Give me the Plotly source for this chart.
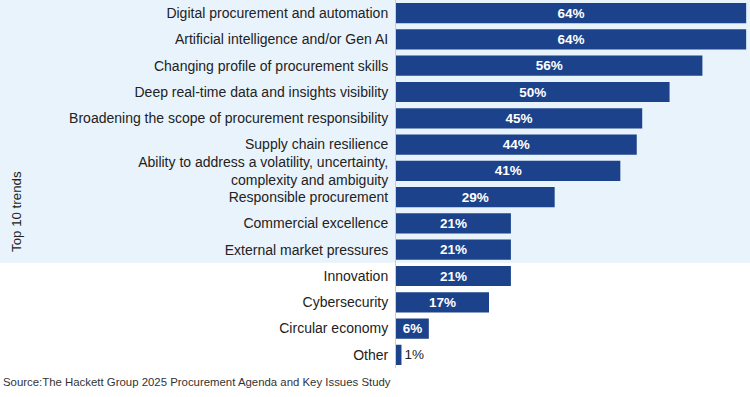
import plotly.graph_objects as go

categories = [
    "Digital procurement and automation",
    "Artificial intelligence and/or Gen AI",
    "Changing profile of procurement skills",
    "Deep real-time data and insights visibility",
    "Broadening the scope of procurement responsibility",
    "Supply chain resilience",
    "Ability to address a volatility, uncertainty,<br>complexity and ambiguity",
    "Responsible procurement",
    "Commercial excellence",
    "External market pressures",
    "Innovation",
    "Cybersecurity",
    "Circular economy",
    "Other",
]
values = [64, 64, 56, 50, 45, 44, 41, 29, 21, 21, 21, 17, 6, 1]
value_labels = [f"{v}%" for v in values]
top_n = 10

W, H = 750, 397
ML, MR, MT, MB = 396, 0, 0, 29
plot_w = W - ML - MR
plot_h = H - MT - MB

positions = ["inside" if v > 3 else "outside" for v in values]

fig = go.Figure(go.Bar(
    x=values, y=categories, orientation="h",
    marker=dict(color="#1b428a", line=dict(width=0)),
    text=value_labels, textposition=positions,
    insidetextanchor="middle",
    insidetextfont=dict(color="white", size=13.5, family="Liberation Sans", weight="bold"),
    outsidetextfont=dict(color="#222222", size=13.5, family="Liberation Sans"),
    constraintext="none", cliponaxis=False,
    width=0.77, hoverinfo="skip",
))

n = len(categories)
frac_top = top_n / n
fig.add_shape(type="rect", xref="paper", yref="paper",
              x0=-ML / plot_w, x1=1.0 + 5 / plot_w, y0=1 - frac_top, y1=1.0,
              fillcolor="#e9f3fc", line=dict(width=0), layer="below")

fig.add_annotation(text="Top 10 trends", textangle=-90, xref="paper", yref="paper",
                   x=(16 - ML) / plot_w, y=1 - 211 / plot_h, showarrow=False,
                   xanchor="center", yanchor="middle",
                   font=dict(size=13.3, color="#222222", family="Liberation Sans"))

fig.add_annotation(text="Source:The Hackett Group 2025 Procurement Agenda and Key Issues Study",
                   xref="paper", yref="paper", x=(1 - ML) / plot_w, y=-(382 - plot_h) / plot_h,
                   xanchor="left", yanchor="middle", showarrow=False,
                   font=dict(size=11.4, color="#333333", family="Liberation Sans"))

fig.update_layout(
    width=W, height=H,
    margin=dict(l=ML, r=MR, t=MT, b=MB),
    paper_bgcolor="white", plot_bgcolor="rgba(0,0,0,0)",
    showlegend=False,
    bargap=0.23,
    font=dict(family="Liberation Sans", color="#222222"),
)
fig.update_xaxes(range=[0, 64.7], visible=False, fixedrange=True)
fig.update_yaxes(autorange="reversed", showline=True, linecolor="#cccccc", linewidth=1,
                 showgrid=False, ticks="outside", ticklen=4, tickcolor="rgba(0,0,0,0)",
                 tickfont=dict(size=14, color="#222222", family="Liberation Sans"),
                 fixedrange=True)

fig.write_html("out.html", config={"displayModeBar": False},
               post_script="document.body.style.margin='0';document.body.style.overflow='hidden';")
